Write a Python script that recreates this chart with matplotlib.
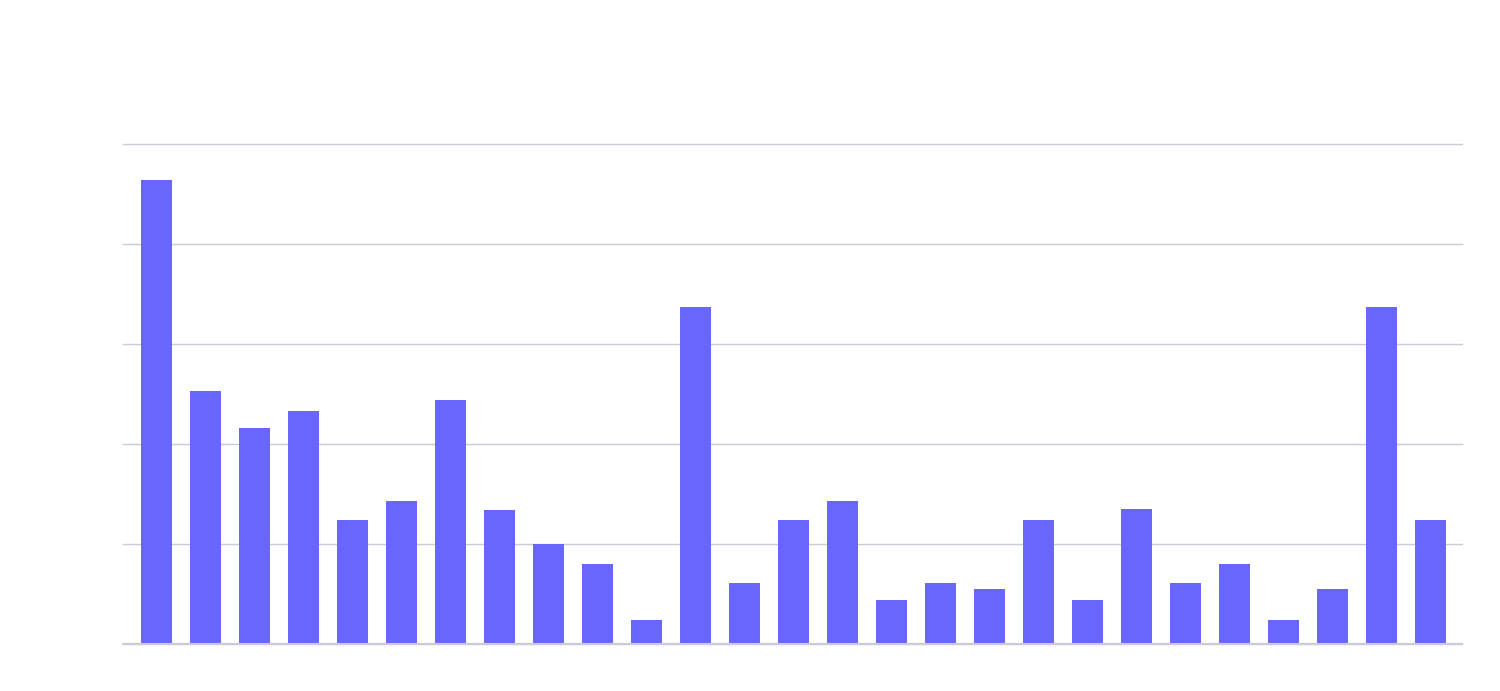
import numpy as np
import matplotlib.pyplot as plt

# valores de cada barra
labels = [str(i) for i in range(1, 28)]
values = [23.2, 12.65, 10.8, 11.65, 6.2, 7.15, 12.2, 6.7, 5.0, 4.0, 1.2,
          16.85, 3.05, 6.2, 7.15, 2.2, 3.05, 2.75, 6.2, 2.2, 6.75, 3.05,
          4.0, 1.2, 2.75, 16.85, 6.2]
y_ticks = [0, 5, 10, 15, 20, 25]

fig = plt.figure(figsize=(15, 6.91), dpi=100)
ax = fig.add_axes([123 / 1500, 1 - 644 / 691, (1462 - 123) / 1500, 500 / 691])

x = np.arange(len(values))
ax.bar(x, values, width=0.633, color='#6966ff', zorder=3)

ax.set_xlim(-0.684, 26.64)
ax.set_ylim(0, 25)
ax.set_yticks(y_ticks)
ax.set_xticks([])
ax.yaxis.grid(True, color='#cbc9dc', linewidth=1)
for gl in ax.get_ygridlines():
    gl.set_clip_on(False)
# linea base
ax.axhline(0, color='#cbc9dc', linewidth=1.5, zorder=4, clip_on=False)
ax.tick_params(axis='y', length=0, labelleft=False)
for s in ax.spines.values():
    s.set_visible(False)

fig.savefig('out.png', dpi=100, facecolor='white')
